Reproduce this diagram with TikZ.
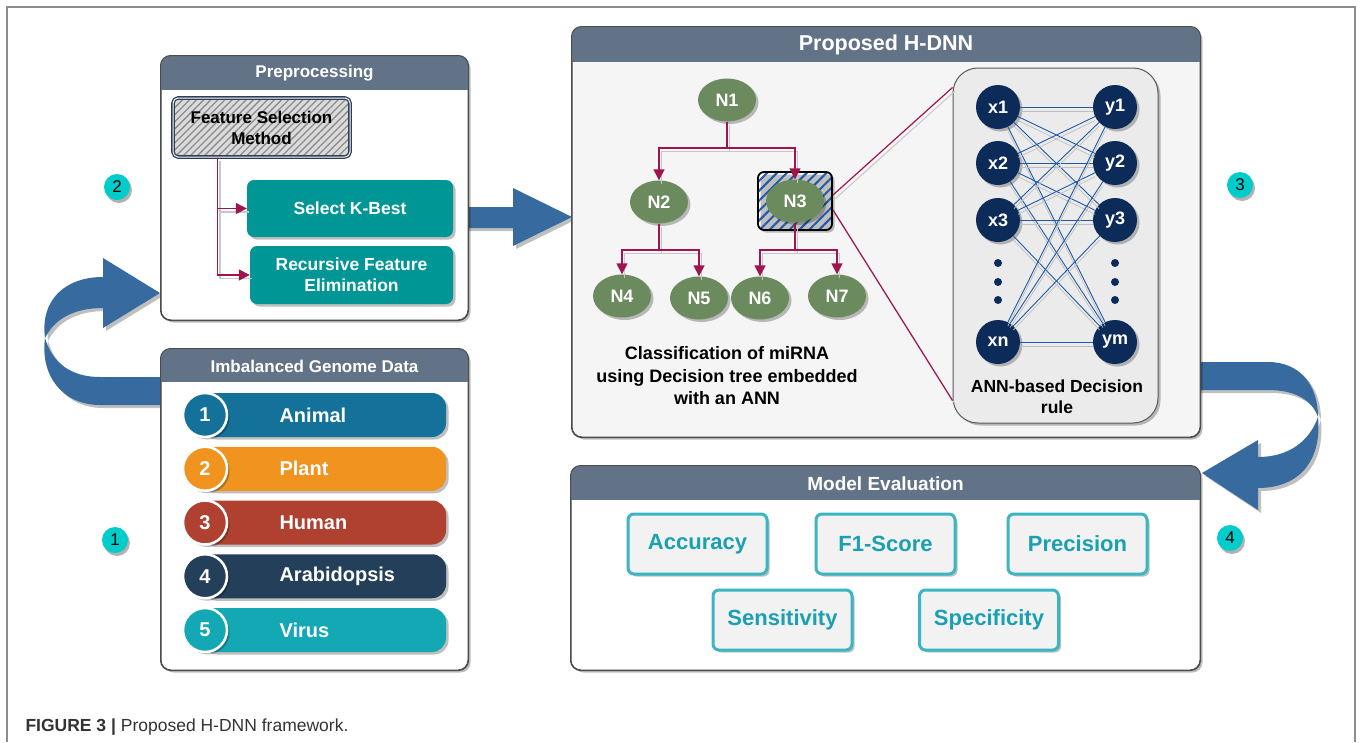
\documentclass[tikz,border=0pt]{standalone}
\usepackage{fontspec}
\setmainfont{Liberation Sans}
\usetikzlibrary{arrows.meta,shapes.geometric,shadows,patterns.meta}
\definecolor{hdr}{RGB}{99,115,135}
\definecolor{bigarrow}{RGB}{55,106,159}
\definecolor{wine}{RGB}{160,20,80}
\definecolor{tealfill}{RGB}{0,150,150}
\definecolor{leafgreen}{RGB}{107,138,94}
\definecolor{navy}{RGB}{12,43,88}
\definecolor{wire}{RGB}{30,90,168}
\definecolor{badgecol}{RGB}{0,204,204}
\definecolor{metricline}{RGB}{58,181,195}
\definecolor{metrictxt}{RGB}{26,160,176}
\definecolor{sketch}{RGB}{45,62,88}
\definecolor{cAnimal}{RGB}{19,113,154}
\definecolor{cPlant}{RGB}{240,147,31}
\definecolor{cHuman}{RGB}{176,64,48}
\definecolor{cArab}{RGB}{35,63,90}
\definecolor{cVirus}{RGB}{20,168,180}
\tikzset{
  boxshadow/.style={drop shadow={shadow xshift=2.5pt,shadow yshift=-2.5pt,fill=black,opacity=.25}},
  panel/.style={draw=black!70, line width=1pt, fill=white, rounded corners=10pt, inner sep=0pt, boxshadow},
  hdrtxt/.style={text=white, font=\fontsize{17}{20}\selectfont\bfseries},
  fsmbox/.style={draw=sketch, line width=1.3pt, double=white, double distance=1pt, rounded corners=5pt,
    preaction={fill=black!14}, pattern={Lines[angle=45,distance=5pt,line width=1.3pt]}, pattern color=black!45,
    align=center, font=\fontsize{17}{21}\selectfont\bfseries},
  selbox/.style={fill=tealfill, rounded corners=7pt, text=white, align=center, boxshadow,
    font=\fontsize{17.5}{21}\selectfont\bfseries},
  treearrow/.style={draw=wine, line width=1.4pt, -{Triangle[length=11pt,width=11pt]}},
  tshadow/.style={draw=black!22, line width=1.3pt, transform canvas={xshift=2.5pt,yshift=-3.5pt}},
  treenode/.style={ellipse, fill=leafgreen, minimum width=58pt, minimum height=43pt, inner sep=0pt,
    text=white, boxshadow, font=\fontsize{18}{18}\selectfont\bfseries},
  hatchbox/.style={draw=black, line width=1.8pt, rounded corners=6pt, preaction={fill=white},
    pattern={Lines[angle=45,distance=7pt,line width=2pt]}, pattern color=wire, boxshadow},
  annbox/.style={draw=black!65, line width=1pt, fill=black!8, rounded corners=25pt, boxshadow},
  neuron/.style={circle, fill=navy, minimum size=44pt, inner sep=0pt, text=white, boxshadow,
    font=\fontsize{18}{18}\selectfont\bfseries},
  wireline/.style={draw=wire, line width=.9pt},
  bar/.style={rounded corners=14pt, minimum width=246pt, minimum height=44pt, boxshadow},
  barnum/.style={circle, draw=white, line width=2.5pt, minimum size=44pt, inner sep=0pt, text=white,
    boxshadow, font=\fontsize{20}{20}\selectfont\bfseries},
  bartxt/.style={text=white, font=\fontsize{20}{20}\selectfont\bfseries},
  badge/.style={circle, fill=badgecol, minimum size=26pt, inner sep=0pt,
    drop shadow={shadow xshift=2pt,shadow yshift=-3pt,fill=black,opacity=.3}, font=\fontsize{17}{17}\selectfont},
  metricbox/.style={draw=metricline, line width=3pt, fill=black!5, rounded corners=6pt,
    minimum width=139pt, minimum height=60pt, text=metrictxt, boxshadow,
    font=\fontsize{22}{22}\selectfont\bfseries},
  bodytxt/.style={align=center, font=\fontsize{18}{22.5}\selectfont\bfseries}
}
\begin{document}
\begin{tikzpicture}[x=1pt,y=-1pt]
\useasboundingbox (0,0) rectangle (1360,742);
\draw[black!45, line width=1.5pt] (7,742) -- (7,7) -- (1355,7) -- (1355,742);

\foreach \dx/\dy/\c in {3/3/black!25,0/0/bigarrow}{
  \fill[\c, shift={(\dx,\dy)}] (166,377) -- (100,377) .. controls (70,377) and (52,362) .. (45,338)
    .. controls (40,375) and (62,405) .. (100,405) -- (166,405) -- cycle;
  \fill[\c, shift={(\dx,\dy)}] (45,338) .. controls (40,300) and (65,277) .. (103,277) -- (103,258)
    -- (160,293) -- (103,328) -- (103,308) .. controls (75,308) and (55,318) .. (45,338) -- cycle;
  \fill[\c, shift={(\dx,\dy)}] (460,207) -- (513,207) -- (513,188) -- (572,217) -- (513,246)
    -- (513,228) -- (460,228) -- cycle;
  \fill[\c, shift={(\dx,\dy)}] (1195,362) -- (1268,362) .. controls (1300,362) and (1318,385) .. (1318,417)
    .. controls (1312,400) and (1295,390) .. (1268,390) -- (1195,390) -- cycle;
  \fill[\c, shift={(\dx,\dy)}] (1318,417) .. controls (1322,460) and (1300,488) .. (1258,488) -- (1258,510)
    -- (1202,473) -- (1258,440) -- (1258,457) .. controls (1290,457) and (1310,440) .. (1318,417) -- cycle;
}

\node[panel, minimum width=307pt, minimum height=264pt] (prep) at (314.5,188) {};
\node[panel, minimum width=307pt, minimum height=321pt] (imb) at (314.5,509.5) {};
\node[panel, fill=black!4, minimum width=628pt, minimum height=410pt] (hdnn) at (886,232) {};
\node[panel, minimum width=629pt, minimum height=204pt] (eval) at (885.5,568) {};
\foreach \p/\h in {prep/34,imb/33,hdnn/35,eval/34}{
  \begin{scope}
    \clip[rounded corners=10pt] (\p.south west) rectangle (\p.north east);
    \fill[hdr] (\p.north west) rectangle ([yshift=-\h pt]\p.north east);
  \end{scope}
  \draw[black!70, line width=1pt, rounded corners=10pt] (\p.south west) rectangle (\p.north east);
}
\node[hdrtxt] (tprep) at (314.5,73) {Preprocessing};
\node[hdrtxt] (timb) at (314.5,366) {Imbalanced Genome Data};
\node[hdrtxt, font=\fontsize{21.5}{24}\selectfont\bfseries] (thdnn) at (886,45) {Proposed H-DNN};
\node[hdrtxt, font=\fontsize{19}{22}\selectfont\bfseries] (teval) at (885.5,484) {Model Evaluation};

\node[fsmbox, minimum width=177pt, minimum height=59pt] (fsm) at (261.5,127.5) {Feature Selection\\Method};
\node[selbox, minimum width=206pt, minimum height=57pt] (kbest) at (350,208.5) {Select K-Best};
\node[selbox, minimum width=203pt, minimum height=58pt] (rfe) at (351.5,275) {Recursive Feature\\Elimination};
\coordinate (fsmout) at ([xshift=45pt]fsm.south west);
\draw[tshadow] (fsmout) |- (kbest.west);
\draw[tshadow] (fsmout) |- (rfe.west);
\draw[treearrow] (fsmout) |- (kbest.west);
\draw[treearrow] (fsmout) |- (rfe.west);

\foreach \t/\c [count=\k] in {Animal/cAnimal,Plant/cPlant,Human/cHuman,Arabidopsis/cArab,Virus/cVirus}{
  \pgfmathsetmacro\yy{415+53.75*(\k-1)}
  \node[bar, fill=\c] (bar\k) at (323,\yy) {};
  \node[barnum, fill=\c] (num\k) at (205,\yy) {\k};
  \node[bartxt, anchor=west] (txt\k) at (276,\yy) {\t};
}

\node[hatchbox, minimum width=74pt, minimum height=58pt] (n3box) at (795,201) {};
\node[treenode] (n1) at (727,100) {N1};
\node[treenode] (n2) at (659,202) {N2};
\node[treenode] (n3) at (795,201) {N3};
\node[treenode] (n4) at (622,296) {N4};
\node[treenode] (n5) at (699,298) {N5};
\node[treenode] (n6) at (760,298) {N6};
\node[treenode] (n7) at (837,296) {N7};
\coordinate (b1) at (727,148);
\coordinate (b2) at (659,250);
\coordinate (b3) at (795,250);
\foreach \a/\b/\c/\d in {n1/b1/n2/n3,n2/b2/n4/n5,n3/b3/n6/n7}{
  \draw[tshadow] (\a) -- (\b) -| (\c);
  \draw[tshadow] (\b) -| (\d);
  \draw[wine, line width=1.4pt] (\a) -- (\b);
  \draw[treearrow] (\b) -| (\c);
  \draw[treearrow] (\b) -| (\d);
}
\node[bodytxt] (treecap) at (727,376) {Classification of miRNA\\using Decision tree embedded\\with an ANN};

\node[annbox, minimum width=205pt, minimum height=355pt] (ann) at (1055.5,245.5) {};
\draw[tshadow, line width=1pt] ([yshift=6pt]n3box.east) -- ([yshift=-20pt]ann.north west);
\draw[tshadow, line width=1pt] ([yshift=-9pt]n3box.east) -- ([yshift=23pt]ann.south west);
\draw[wine, line width=1.2pt] ([yshift=6pt]n3box.east) -- ([yshift=-20pt]ann.north west);
\draw[wine, line width=1.2pt] ([yshift=-9pt]n3box.east) -- ([yshift=23pt]ann.south west);
\foreach \i/\yy in {1/107,2/163,3/220,n/342} \node[neuron] (x\i) at (998,\yy) {x\i};
\foreach \j/\yy in {1/107,2/163,3/220,m/342} \node[neuron] (y\j) at (1115,\yy) {y\j};
\foreach \yy in {263,282,300}{
  \fill[navy] (998,\yy) circle (4);
  \fill[navy] (1115,\yy) circle (4);
}
\foreach \i in {1,2,3,n}
  \foreach \j in {1,2,3,m}{
    \draw[black!25, line width=.7pt, transform canvas={yshift=-4pt}] (x\i) -- (y\j);
    \draw[wireline] (x\i) -- (y\j);
  }
\node[bodytxt, font=\fontsize{17.5}{21}\selectfont\bfseries] (annlbl) at (1057,397) {ANN-based Decision\\rule};

\node[metricbox] (acc) at (697.5,544) {Accuracy};
\node[metricbox] (f1) at (885.5,544) {F1-Score};
\node[metricbox] (prec) at (1077.5,544) {Precision};
\node[metricbox] (sens) at (782.5,620) {Sensitivity};
\node[metricbox] (spec) at (989,620) {Specificity};

\node[badge] (s1) at (115,540) {1};
\node[badge] (s2) at (117,187) {2};
\node[badge] (s3) at (1240,185) {3};
\node[badge] (s4) at (1230,538) {4};

\node[anchor=base west, text=black!80, font=\fontsize{17.5}{20}\selectfont] (cap) at (22,731)
  {\textbf{FIGURE 3 |} Proposed H-DNN framework.};
\end{tikzpicture}
\end{document}
